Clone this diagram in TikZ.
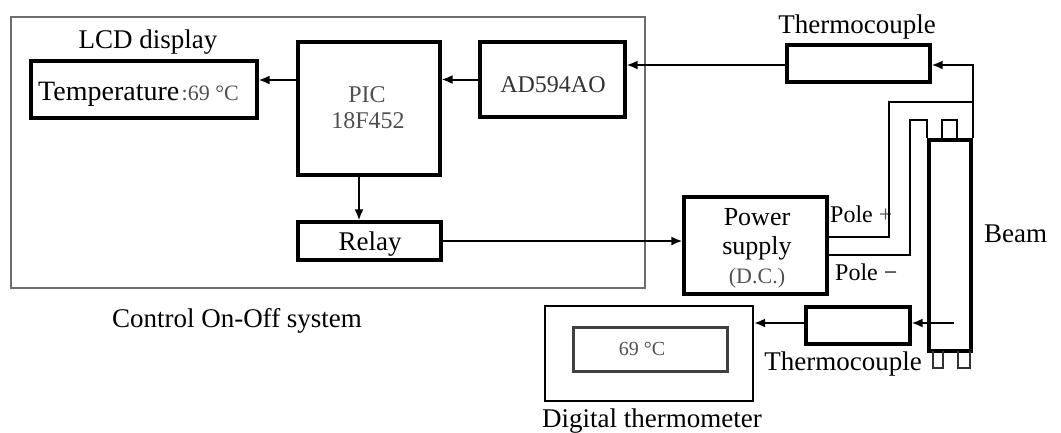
\documentclass[tikz,border=0pt]{standalone}
\usepackage{fontspec}
\setmainfont{Liberation Serif}
\usetikzlibrary{arrows.meta}
\definecolor{txtgray}{RGB}{80,80,80}
\definecolor{linegray}{RGB}{110,110,110}
\begin{document}
\begin{tikzpicture}[x=1pt,y=-1pt,
  box/.style={draw, line width=3.2pt, rectangle, inner sep=0pt},
  thinbox/.style={draw=linegray, line width=1.6pt, rectangle, inner sep=0pt},
  wire/.style={line width=2pt},
  arr/.style={wire, -{Latex[length=11pt,width=9pt]}},
  lbl/.style={inner sep=0pt, anchor=base, font=\fontsize{27}{30}\selectfont},
  small/.style={inner sep=0pt, anchor=base, font=\fontsize{24}{26}\selectfont},
  graytxt/.style={inner sep=0pt, anchor=base, text=txtgray, font=\fontsize{22}{24}\selectfont}
]
\useasboundingbox (0,0) rectangle (1061,432);

% control system frame
\node[thinbox, minimum width=634pt, minimum height=271pt] (outer) at (328,152.5) {};
\node[lbl] (ctrl) at (237,327) {Control On-Off system};

% LCD
\node[box, minimum width=226pt, minimum height=57pt] (lcd) at (144,89.5) {};
\node[lbl] (lcdlbl) at (148,48) {LCD display};
\node[lbl, anchor=base west, font=\fontsize{28}{30}\selectfont] (temp) at (38,100) {Temperature};
\node[graytxt, anchor=base west] (tval) at ([xshift=2pt]temp.base east) {:69 °C};

% PIC
\node[box, minimum width=142pt, minimum height=133pt] (pic) at (369,108.5) {};
\node[graytxt, font=\fontsize{24}{26}\selectfont] (pic1) at (367,102) {PIC};
\node[graytxt, font=\fontsize{24}{26}\selectfont] (pic2) at (368,128) {18F452};

% AD594AO
\node[box, minimum width=145pt, minimum height=75pt] (ad) at (552.5,79.5) {};
\node[graytxt, text=black!80, font=\fontsize{24}{26}\selectfont] (adt) at (553,92) {AD594AO};

% Relay
\node[box, minimum width=143pt, minimum height=38pt] (relay) at (369.5,241) {};
\node[lbl] (relayt) at (370,250) {Relay};

% Thermocouple (top)
\node[box, minimum width=143pt, minimum height=37pt] (tc1) at (858.5,63.5) {};
\node[lbl] (tc1lbl) at (857,33) {Thermocouple};

% Power supply
\node[box, minimum width=143pt, minimum height=97pt] (ps) at (755.5,245.5) {};
\node[inner sep=0pt, align=center, anchor=center, font=\fontsize{26}{29}\selectfont] (pst) at (757,248)
  {Power\\supply\\{\color{txtgray}\fontsize{22}{24}\selectfont(D.C.)}};
\node[small, anchor=base west] (polep) at (830,222) {Pole \textcolor{txtgray}{+}};
\node[small, anchor=base west] (polem) at (835,280) {Pole −};

% Beam
\node[box, minimum width=42pt, minimum height=211pt] (beam) at (950,245.5) {};
\node[lbl, anchor=base west] (beamt) at (984,242) {Beam};
\draw[line width=1.8pt] (942,140) |- (957,120) -- (957,140);
\draw[line width=1.5pt, draw=black!80] (933,351) |- (943,368) -- (943,351);
\draw[line width=1.5pt, draw=black!80] (958,351) |- (970,368) -- (970,351);

% Thermocouple (bottom)
\node[box, minimum width=104pt, minimum height=37pt] (tc2) at (858,325.5) {};
\node[lbl] (tc2lbl) at (843,370) {Thermocouple};

% Digital thermometer
\node[draw, line width=2.2pt, rectangle, minimum width=208pt, minimum height=95pt] (dtout) at (649,353.5) {};
\node[draw=black!75, line width=3pt, rectangle, minimum width=154pt, minimum height=44pt] (dtin) at (650,349) {};
\node[graytxt, font=\fontsize{20}{22}\selectfont] (dtval) at (642,355) {69 °C};
\node[lbl] (dtlbl) at (652,427) {Digital thermometer};

% coordinates for wiring
\coordinate (pp1) at (889,102);
\coordinate (pm1) at (910,120);
\coordinate (bin) at (954,323);

% connectors
\draw[arr] (ad.west) -- (pic.east |- ad.west);
\draw[arr] (pic.west |- 0,80) -- (lcd.east |- 0,80);
\draw[arr] (pic.south -| 359,0) -- (relay.north -| 359,0);
\draw[arr] (relay.east) -- (ps.west |- relay.east);
\draw[arr] (tc1.west |- 0,65) -- (ad.east |- 0,65);
\draw[arr] (beam.north east) |- (tc1.east |- 0,65);
\draw[wire] (ps.east |- 0,237) -| (pp1) -- (beam.north east |- pp1);
\draw[wire] (ps.east |- 0,255) -| (pm1) -| (beam.north west);
\draw[arr] (bin) -- (tc2.east |- bin);
\draw[arr] (tc2.west |- bin) -- (dtout.east |- bin);
\end{tikzpicture}
\end{document}
